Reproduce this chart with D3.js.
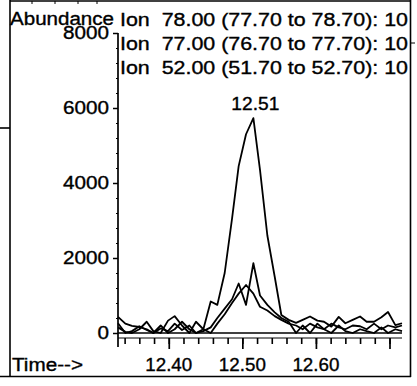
<!DOCTYPE html>
<html><head><meta charset="utf-8">
<script src="https://cdn.jsdelivr.net/npm/d3@7"></script>
<style>
html,body{margin:0;padding:0;background:#fff;}
svg{display:block;}
text{font-family:"Liberation Sans",Arial,sans-serif;font-size:18px;fill:#000;stroke:#000;stroke-width:0.35px;white-space:pre;}
</style></head><body>
<svg id="c" width="417" height="386"></svg>
<script>
// ---- data ----
const times = [12.331, 12.341, 12.350, 12.360, 12.370, 12.379, 12.389, 12.399, 12.408, 12.418,
               12.428, 12.437, 12.447, 12.457, 12.466, 12.476, 12.486, 12.495, 12.505, 12.515,
               12.524, 12.534, 12.544, 12.553, 12.563, 12.573, 12.582, 12.592, 12.602, 12.611,
               12.621, 12.631, 12.640, 12.650, 12.660, 12.669, 12.679, 12.689, 12.698, 12.708, 12.717];
const ion78 = [150, 30, 0, 100, 300, 50, 0, 330, 450, 200, 0, 300, 100, 840, 750, 1600, 3050, 4450, 5300, 5730,
               4350, 2600, 1500, 480, 350, 270, 350, 440, 330, 300, 170, 430, 260, 350, 440, 300, 300, 420, 560, 210, 260];
const ion77 = [260, 0, 50, 180, 80, 0, 120, 50, 250, 80, 200, 0, 50, 150, 400, 650, 900, 1320, 750, 1860,
               1000, 750, 550, 400, 300, 0, 200, 0, 250, 100, 0, 200, 50, 0, 100, 50, 0, 150, 0, 100, 50];
const ion52 = [430, 250, 190, 160, 100, 0, 200, 0, 100, 300, 100, 0, 100, 0, 250, 500, 800, 1050, 1280, 1050,
               700, 600, 450, 350, 250, 200, 100, 250, 150, 100, 250, 150, 100, 200, 180, 100, 250, 100, 200, 150, 200];
const ionLabels = ["Ion  78.00 (77.70 to 78.70): 10", "Ion  77.00 (76.70 to 77.70): 10", "Ion  52.00 (51.70 to 52.70): 10"];
const yTicks = [0, 2000, 4000, 6000, 8000];
const xMajorTicks = [12.40, 12.50, 12.60, 12.70];
const xTickLabels = ["12.40", "12.50", "12.60"];
const peakTime = 12.515, peakValue = 5730, peakLabel = "12.51";
const yTitle = "Abundance", xTitle = "Time-->";

// ---- drawing ----
const svg = d3.select("#c");
const x = d3.scaleLinear().domain([12.331, 12.717]).range([118, 402]);
const y = d3.scaleLinear().domain([0, 8000]).range([333, 33]);

// outer frame (scan)
const frame = svg.append("g").attr("stroke", "#000").attr("stroke-width", 1.6).attr("fill", "none");
frame.append("line").attr("x1", 10).attr("y1", 0).attr("x2", 10).attr("y2", 377);
frame.append("line").attr("x1", 10).attr("y1", 1).attr("x2", 411).attr("y2", 1);
frame.append("line").attr("x1", 410.5).attr("y1", 0).attr("x2", 410.5).attr("y2", 377);
frame.append("line").attr("x1", 0).attr("y1", 376.5).attr("x2", 411).attr("y2", 376.5);
frame.append("line").attr("x1", 0).attr("y1", 128).attr("x2", 10).attr("y2", 128);
frame.append("line").attr("x1", 411).attr("y1", 43).attr("x2", 415).attr("y2", 43).attr("stroke-width", 1);
[32, 55, 78, 97].forEach(px => frame.append("line").attr("x1", px).attr("y1", 1).attr("x2", px).attr("y2", 4).attr("stroke-width", 1));

// y axis
const yMinor = d3.range(0, 8001, 400);
svg.append("g").attr("transform", "translate(118,0)")
  .call(d3.axisLeft(y).tickValues(yMinor).tickSize(2).tickFormat("").tickSizeOuter(0))
  .call(g => g.select(".domain").remove())
  .selectAll("line").attr("stroke-width", 1.2);
const yAx = svg.append("g").attr("transform", "translate(118,0)")
  .call(d3.axisLeft(y).tickValues(yTicks).tickSize(5).tickPadding(4).tickSizeOuter(0).tickFormat(d3.format("d")));
yAx.select(".domain").remove();
yAx.selectAll("line").attr("stroke-width", 1.5);
yAx.selectAll("text").attr("font-size", null).attr("font-family", null)
  .style("font-size", "18px").attr("textLength", d => String(d).length * 11.5).attr("lengthAdjust", "spacingAndGlyphs");
svg.append("line").attr("x1", 118).attr("x2", 118).attr("y1", y(8000)).attr("y2", 347)
  .attr("stroke", "#000").attr("stroke-width", 1.7);

// zero line
svg.append("line").attr("x1", x.range()[0]).attr("x2", x.range()[1]).attr("y1", y(0)).attr("y2", y(0))
  .attr("stroke", "#000").attr("stroke-width", 1.5);

// x axis
const axisY = 338;
svg.append("line").attr("x1", x.range()[0]).attr("x2", x.range()[1]).attr("y1", axisY).attr("y2", axisY)
  .attr("stroke", "#000").attr("stroke-width", 1);
const xMinor = d3.range(12.34, 12.711, 0.02);
svg.append("g").attr("transform", `translate(0,${axisY})`)
  .call(d3.axisBottom(x).tickValues(xMinor).tickSize(6).tickFormat("").tickSizeOuter(0))
  .call(g => g.select(".domain").remove())
  .selectAll("line").attr("stroke-width", 1.6);
svg.append("g").attr("transform", `translate(0,${axisY})`)
  .call(d3.axisBottom(x).tickValues(xMajorTicks).tickSize(11).tickFormat("").tickSizeOuter(0))
  .call(g => g.select(".domain").remove())
  .selectAll("line").attr("stroke-width", 1.7);
svg.append("g").selectAll("text").data(xTickLabels).join("text")
  .attr("x", (d, i) => x(xMajorTicks[i])).attr("y", 371)
  .attr("text-anchor", "middle")
  .attr("textLength", 47).attr("lengthAdjust", "spacingAndGlyphs")
  .text(d => d);

// traces
const line = d3.line().x((d, i) => x(times[i])).y(d => y(d));
[ion52, ion77, ion78].forEach(s => {
  svg.append("path").datum(s).attr("d", line)
    .attr("fill", "none").attr("stroke", "#000").attr("stroke-width", 1.8).attr("stroke-linejoin", "round");
});

// peak label
svg.append("text").attr("x", x(peakTime) + 2).attr("y", y(peakValue) - 8)
  .attr("text-anchor", "middle").attr("textLength", 48).attr("lengthAdjust", "spacingAndGlyphs")
  .text(peakLabel);

// titles / legend
svg.append("text").attr("x", 10).attr("y", 25).attr("textLength", 104).attr("lengthAdjust", "spacingAndGlyphs").text(yTitle);
svg.append("g").selectAll("text").data(ionLabels).join("text")
  .attr("x", 120).attr("y", (d, i) => 26 + i * 24)
  .attr("textLength", 288).attr("lengthAdjust", "spacingAndGlyphs")
  .text(d => d);
svg.append("text").attr("x", 12).attr("y", 371).attr("textLength", 71).attr("lengthAdjust", "spacingAndGlyphs").text(xTitle);
</script>
</body></html>
